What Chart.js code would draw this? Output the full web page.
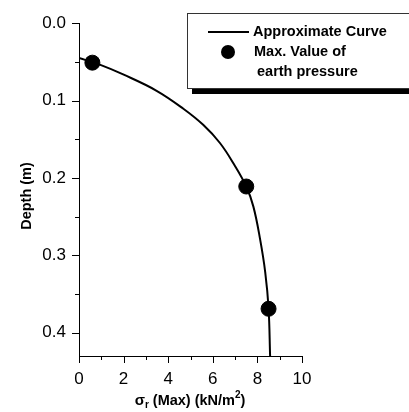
<!DOCTYPE html>
<html>
<head>
<meta charset="utf-8">
<script src="https://cdn.jsdelivr.net/npm/chart.js@4"></script>
<style>
  html, body { margin: 0; padding: 0; background: #fff; }
  #wrap { width: 409px; height: 412px; }
</style>
</head>
<body>
<div id="wrap"><canvas id="chart" width="409" height="412"></canvas></div>
<script>
// approximate curve
const curveSigma = [0, 0.93, 1.98, 3.48, 4.68, 5.58, 6.32, 6.95, 7.5, 7.82, 8.12, 8.35, 8.5, 8.57];
const curveDepth = [0.045, 0.0535, 0.0662, 0.0873, 0.1105, 0.1316, 0.1548, 0.1823, 0.211, 0.237, 0.279, 0.3215, 0.368, 0.43];

// measured maximum earth pressure
const maxSigma = [0.6, 7.5, 8.5];
const maxDepth = [0.051, 0.211, 0.369];

const xTicks = [0, 2, 4, 6, 8, 10];
const yTicks = [0.0, 0.1, 0.2, 0.3, 0.4];

const FONT = "'Liberation Sans', Arial, sans-serif";

// axis ticks with short minor ticks, drawn by hand
const tickPlugin = {
  id: "ticks",
  afterDraw(chart) {
    const ctx = chart.ctx;
    const xs = chart.scales.x, ys = chart.scales.y;
    const area = chart.chartArea;
    ctx.save();
    ctx.strokeStyle = "#000";
    ctx.lineWidth = 1;
    ctx.beginPath();
    for (let v = 0; v <= 10; v += 1) {
      const px = Math.round(xs.getPixelForValue(v)) + 0.5;
      const len = v % 2 === 0 ? 7 : 4;
      ctx.moveTo(px, area.bottom);
      ctx.lineTo(px, area.bottom + len);
    }
    for (let i = 0; i <= 8; i++) {
      const v = i * 0.05;
      const py = Math.round(ys.getPixelForValue(v)) + 0.5;
      const len = i % 2 === 0 ? 7 : 4;
      ctx.moveTo(area.left, py);
      ctx.lineTo(area.left - len, py);
    }
    ctx.stroke();
    ctx.restore();
  }
};

// axis titles (x one has sub/superscript) and the boxed legend
const extrasPlugin = {
  id: "extras",
  afterDraw(chart) {
    const ctx = chart.ctx;
    ctx.save();
    ctx.fillStyle = "#000";
    ctx.textBaseline = "alphabetic";

    // y axis title
    ctx.save();
    ctx.translate(31, 196);
    ctx.rotate(-Math.PI / 2);
    ctx.font = "bold 14.5px " + FONT;
    ctx.textAlign = "center";
    ctx.fillText("Depth (m)", 0, 0);
    ctx.restore();

    // x axis title
    const parts = [
      { t: "σ", f: "bold 15px " + FONT, dy: 0 },
      { t: "r", f: "bold 10px " + FONT, dy: 3 },
      { t: " (Max) (kN/m", f: "bold 14.5px " + FONT, dy: 0 },
      { t: "2", f: "bold 10px " + FONT, dy: -7 },
      { t: ")", f: "bold 14.5px " + FONT, dy: 0 }
    ];
    let total = 0;
    parts.forEach(p => { ctx.font = p.f; p.w = ctx.measureText(p.t).width; total += p.w; });
    let x = 190 - total / 2;
    parts.forEach(p => {
      ctx.font = p.f;
      ctx.textAlign = "left";
      ctx.fillText(p.t, x, 405 + p.dy);
      x += p.w;
    });

    // legend shadow and box
    ctx.fillRect(192, 89, 220, 5);
    ctx.fillStyle = "#fff";
    ctx.fillRect(187, 13, 225, 76);
    ctx.strokeStyle = "#333";
    ctx.lineWidth = 1;
    ctx.strokeRect(187.5, 13.5, 230, 75);

    ctx.fillStyle = "#000";
    ctx.strokeStyle = "#000";
    ctx.lineWidth = 2;
    ctx.beginPath();
    ctx.moveTo(208, 32);
    ctx.lineTo(249, 32);
    ctx.stroke();
    ctx.beginPath();
    ctx.arc(228, 52, 7, 0, Math.PI * 2);
    ctx.fill();

    ctx.font = "bold 14.5px " + FONT;
    ctx.textBaseline = "middle";
    ctx.textAlign = "left";
    ctx.fillText(chart.data.datasets[0].label, 253, 32);
    ctx.fillText("Max. Value of", 254, 52);
    ctx.fillText("earth pressure", 257, 72);
    ctx.restore();
  }
};

const curve = curveSigma.map((s, i) => ({ x: s, y: curveDepth[i] }));
const measured = maxSigma.map((s, i) => ({ x: s, y: maxDepth[i] }));

new Chart(document.getElementById("chart"), {
  type: "scatter",
  data: {
    datasets: [
      {
        label: "Approximate Curve",
        data: curve,
        showLine: true,
        borderColor: "#000",
        borderWidth: 2,
        pointRadius: 0,
        tension: 0.4,
        order: 2
      },
      {
        label: "Max. Value of earth pressure",
        data: measured,
        backgroundColor: "#000",
        borderColor: "#000",
        pointRadius: 7.5,
        order: 1
      }
    ]
  },
  options: {
    responsive: false,
    animation: false,
    layout: { padding: { left: 0, top: 16, right: 107, bottom: 0 } },
    plugins: {
      legend: { display: false },
      tooltip: { enabled: false }
    },
    scales: {
      x: {
        type: "linear",
        min: 0,
        max: 10,
        afterFit(scale) { scale.height = 56; },
        afterBuildTicks(scale) { scale.ticks = xTicks.map(v => ({ value: v })); },
        grid: { display: false, drawTicks: false },
        border: { display: true, color: "#000", width: 1 },
        ticks: {
          padding: 13,
          color: "#000",
          font: { family: FONT, size: 17 },
          maxRotation: 0,
          callback: v => String(v)
        }
      },
      y: {
        type: "linear",
        reverse: true,
        min: 0,
        max: 0.43,
        afterFit(scale) { scale.width = 79; },
        afterBuildTicks(scale) { scale.ticks = yTicks.map(v => ({ value: v })); },
        grid: { display: false, drawTicks: false },
        border: { display: true, color: "#000", width: 1 },
        ticks: {
          padding: 13,
          color: "#000",
          font: { family: FONT, size: 17 },
          callback: v => v.toFixed(1)
        }
      }
    }
  },
  plugins: [tickPlugin, extrasPlugin]
});
</script>
</body>
</html>
